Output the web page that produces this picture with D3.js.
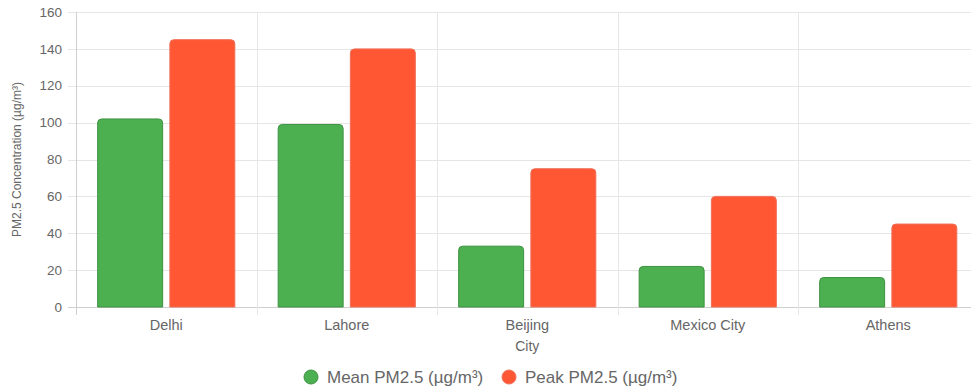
<!DOCTYPE html>
<html>
<head>
<meta charset="utf-8">
<script src="https://cdn.jsdelivr.net/npm/d3@7"></script>
<style>
  body { margin: 0; background: #fff; }
  text { font-family: "Liberation Sans", Arial, Helvetica, sans-serif; fill: #666; }
</style>
</head>
<body>
<div id="chart"></div>
<script>
var cities = ["Delhi", "Lahore", "Beijing", "Mexico City", "Athens"]
var meanPM = [102, 99, 33, 22, 16]
var peakPM = [145, 140, 75, 60, 45]
var seriesNames = ["Mean PM2.5 (µg/m³)", "Peak PM2.5 (µg/m³)"]
var seriesColors = ["#4CAF50", "#FF5733"]
var seriesBorders = ["#3e9142", "#f0705a"]
var yTicks = [0, 20, 40, 60, 80, 100, 120, 140, 160]

var width = 971, height = 389
var plotLeft = 76, plotRight = 978.5, plotTop = 12, plotBottom = 307

var svg = d3.select("#chart").append("svg")
    .attr("width", width)
    .attr("height", height)

var x = d3.scaleBand().domain(cities).range([plotLeft, plotRight]).padding(0)
var y = d3.scaleLinear().domain([0, 160]).range([plotBottom, plotTop])

// grid lines
svg.append("g").selectAll("line")
    .data(yTicks).enter().append("line")
        .attr("x1", plotLeft - 8).attr("x2", plotRight)
        .attr("y1", function(d) { return Math.round(y(d)) + 0.5 })
        .attr("y2", function(d) { return Math.round(y(d)) + 0.5 })
        .attr("stroke", function(d) { return d === 0 ? "#cfcfcf" : "#e6e6e6" })

var vlines = cities.map(function(c) { return x(c) }).concat([plotRight])
svg.append("g").selectAll("line")
    .data(vlines).enter().append("line")
        .attr("x1", function(d) { return Math.round(d) + 0.5 })
        .attr("x2", function(d) { return Math.round(d) + 0.5 })
        .attr("y1", plotTop).attr("y2", plotBottom + 8)
        .attr("stroke", function(d, i) { return i === 0 ? "#cfcfcf" : "#e6e6e6" })

// y tick labels
svg.append("g").selectAll("text")
    .data(yTicks).enter().append("text")
        .attr("x", plotLeft - 14)
        .attr("y", function(d) { return y(d) })
        .attr("dy", "0.35em")
        .attr("text-anchor", "end")
        .attr("font-size", "13.5px")
        .text(function(d) { return d })

// x tick labels
svg.append("g").selectAll("text")
    .data(cities).enter().append("text")
        .attr("x", function(d) { return x(d) + x.bandwidth() / 2 })
        .attr("y", 330)
        .attr("text-anchor", "middle")
        .attr("font-size", "14.5px")
        .text(function(d) { return d })

// axis titles
svg.append("text")
    .attr("transform", "translate(21," + ((plotTop + plotBottom) / 2) + ") rotate(-90)")
    .attr("text-anchor", "middle")
    .attr("font-size", "12px")
    .text("PM2.5 Concentration (µg/m³)")

svg.append("text")
    .attr("x", x("Beijing") + x.bandwidth() / 2)
    .attr("y", 351)
    .attr("text-anchor", "middle")
    .attr("font-size", "14px")
    .text("City")

// bars, rounded on top
function barPath(x0, w, yTop, yBase, r) {
    r = Math.min(r, w / 2, yBase - yTop)
    var p = d3.path()
    p.moveTo(x0, yBase)
    p.lineTo(x0, yTop + r)
    p.arcTo(x0, yTop, x0 + r, yTop, r)
    p.lineTo(x0 + w - r, yTop)
    p.arcTo(x0 + w, yTop, x0 + w, yTop + r, r)
    p.lineTo(x0 + w, yBase)
    p.closePath()
    return p.toString()
}

var seriesData = [meanPM, peakPM]
seriesData.forEach(function(vals, si) {
    svg.append("g").selectAll("path")
        .data(cities).enter().append("path")
            .attr("d", function(c, i) {
                var bw = x.bandwidth()
                var slot = bw * 0.8 / 2
                var x0 = x(c) + bw * 0.1 + si * slot + slot * 0.05
                return barPath(x0, slot * 0.9, y(vals[i]), y(0), 4)
            })
            .attr("fill", seriesColors[si])
            .attr("stroke", seriesBorders[si])
            .attr("stroke-width", 1)
})

// legend
var legendX = [311, 509]
var legend = svg.append("g").selectAll("g")
    .data(seriesNames).enter().append("g")
        .attr("transform", function(d, i) { return "translate(" + legendX[i] + ",377)" })
legend.append("circle")
    .attr("r", 7)
    .attr("fill", function(d, i) { return seriesColors[i] })
    .attr("stroke", function(d, i) { return seriesBorders[i] })
legend.append("text")
    .attr("x", 16)
    .attr("dy", "0.35em")
    .attr("font-size", "17px")
    .text(function(d) { return d })
</script>
</body>
</html>
